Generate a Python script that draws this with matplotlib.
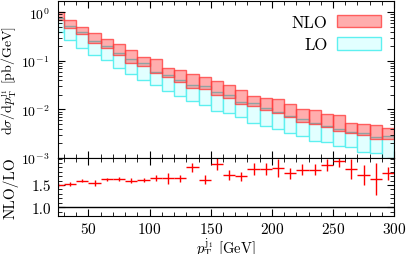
import numpy as np
import matplotlib
matplotlib.use("Agg")
import matplotlib.pyplot as plt
from matplotlib.patches import Patch
from matplotlib.ticker import MultipleLocator, FixedLocator, FormatStrFormatter

plt.rcParams['font.family'] = 'serif'
plt.rcParams['font.serif'] = ['cmr10', 'DejaVu Serif']
plt.rcParams['mathtext.fontset'] = 'cm'
plt.rcParams['axes.formatter.use_mathtext'] = True
plt.rcParams['axes.unicode_minus'] = False

# bins de p_T (GeV), anchura 10
bordes = np.arange(20, 310, 10)
centros = bordes[:-1] + 5

# bandas NLO y LO (pb/GeV)
nlo_alto = [1.02, 0.70, 0.50, 0.380, 0.280, 0.221, 0.171, 0.121, 0.110, 0.0703,
            0.0639, 0.0538, 0.0466, 0.0378, 0.0323, 0.0249, 0.0191, 0.0171, 0.0163, 0.01306,
            0.01014, 0.0098, 0.0081, 0.00773, 0.00536, 0.00503, 0.0048, 0.0041]
nlo_bajo = [0.70, 0.466, 0.359, 0.236, 0.186, 0.129, 0.091, 0.080, 0.0565, 0.0466,
            0.0373, 0.0276, 0.0263, 0.0201, 0.0171, 0.01306, 0.0119, 0.0098, 0.00838, 0.00693,
            0.00561, 0.00503, 0.0043, 0.00366, 0.00333, 0.00298, 0.00243, 0.00243]
lo_alto = [0.77, 0.52, 0.395, 0.255, 0.200, 0.1465, 0.1116, 0.091, 0.0592, 0.052,
           0.041, 0.0323, 0.0298, 0.0224, 0.0201, 0.01436, 0.0135, 0.01064, 0.00905, 0.00737,
           0.0063, 0.00536, 0.00457, 0.00391, 0.00349, 0.00323, 0.00275, 0.00284]
lo_bajo = [0.386, 0.272, 0.184, 0.135, 0.104, 0.0716, 0.0546, 0.041, 0.0323, 0.0235,
           0.0191, 0.0151, 0.01245, 0.00935, 0.00838, 0.00693, 0.00536, 0.00457, 0.00391, 0.00323,
           0.00284, 0.00227, 0.00216, 0.00176, 0.0017, 0.00134, 0.00128, 0.0008]

# cociente NLO/LO
cociente = [1.50, 1.52, 1.60, 1.55, 1.63, 1.64, 1.60, 1.61, 1.66, 1.65,
            1.65, 1.90, 1.62, 1.98, 1.73, 1.70, 1.86, 1.86, 1.88, 1.77,
            1.85, 1.85, 1.95, 2.04, 1.86, 1.73, 1.64, 1.77]
error = [0.04, 0.045, 0.04, 0.075, 0.04, 0.04, 0.05, 0.04, 0.075, 0.125,
         0.07, 0.11, 0.1, 0.14, 0.11, 0.1, 0.14, 0.14, 0.2, 0.125,
         0.13, 0.13, 0.14, 0.125, 0.23, 0.23, 0.36, 0.15]

col_nlo = (1.0, 0.0, 0.0, 0.32)
borde_nlo = (1.0, 0.25, 0.25, 0.8)
col_lo = '#e2ffff'
borde_lo = '#5ef0f0'

fig = plt.figure(figsize=(4.08, 2.55), dpi=100)
ax = fig.add_axes([0.142, 0.376, 0.824, 0.616])
axr = fig.add_axes([0.142, 0.149, 0.824, 0.227], sharex=ax)

lo_alto = np.array(lo_alto)
lo_bajo = np.array(lo_bajo)
nlo_alto = np.array(nlo_alto)
nlo_bajo = np.array(nlo_bajo)

ax.bar(centros, lo_alto - lo_bajo, bottom=lo_bajo, width=10,
       facecolor=col_lo, edgecolor=borde_lo, linewidth=1.0)
ax.bar(centros, nlo_alto - nlo_bajo, bottom=nlo_bajo, width=10,
       facecolor=col_nlo, edgecolor=borde_nlo, linewidth=1.0)

ax.set_yscale('log')
ax.set_xlim(25, 300)
ax.set_ylim(1e-3, 1.7)
ax.set_ylabel(r'$\mathrm{d}\sigma/\mathrm{d}p_\mathrm{T}^{\mathrm{j}_1}$ [pb/GeV]', fontsize=10)
ax.yaxis.set_label_coords(-0.117, 0.5)
ax.tick_params(which='both', direction='in', top=True, right=True, labelbottom=False)
ax.tick_params(axis='y', labelsize=10, pad=6)
ax.tick_params(which='major', length=5)
ax.tick_params(which='minor', length=3)
ax.xaxis.set_major_locator(MultipleLocator(50))
ax.xaxis.set_minor_locator(MultipleLocator(10))

manejadores = [Patch(facecolor=col_nlo, edgecolor=borde_nlo, label='NLO'),
               Patch(facecolor=col_lo, edgecolor=borde_lo, label='LO')]
ax.legend(handles=manejadores, loc='upper right', frameon=False, markerfirst=False,
          fontsize=12, handlelength=2.6, handleheight=0.8, borderaxespad=0.4,
          labelspacing=0.45, handletextpad=0.6)

axr.errorbar(centros, cociente, yerr=error, xerr=5, fmt='none', ecolor='red', elinewidth=1.0)
axr.axhline(1.0, color='black', linewidth=1.0)
axr.set_ylim(0.8, 2.11)
axr.yaxis.set_major_locator(FixedLocator([1.0, 1.5]))
axr.yaxis.set_minor_locator(MultipleLocator(0.1))
axr.yaxis.set_major_formatter(FormatStrFormatter('%.1f'))
axr.set_ylabel('NLO/LO', fontsize=11)
axr.yaxis.set_label_coords(-0.117, 0.5)
axr.set_xlabel(r'$p_\mathrm{T}^{\mathrm{j}_1}$ [GeV]', fontsize=10.5, labelpad=-0.5)
axr.tick_params(which='both', direction='in', top=True, right=True)
axr.tick_params(axis='x', labelsize=11, pad=3.5)
axr.tick_params(axis='y', labelsize=11, pad=5)
axr.tick_params(which='major', length=5)
axr.tick_params(which='minor', length=3)

fig.savefig('out.png', dpi=100)
